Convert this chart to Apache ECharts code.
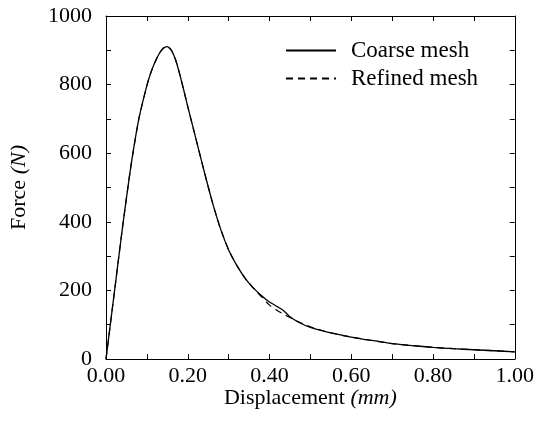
<!DOCTYPE html>
<html>
<head>
<meta charset="utf-8">
<script src="https://cdn.jsdelivr.net/npm/echarts@6/dist/echarts.min.js"></script>
<style>html,body{margin:0;padding:0;background:#fff;}#c{width:537px;height:425px;}</style>
</head>
<body>
<div id="c"></div>
<script>
const displacement = [0, 0.02, 0.04, 0.06, 0.08, 0.10, 0.11, 0.12, 0.13, 0.14, 0.15, 0.16, 0.17, 0.18, 0.19, 0.20, 0.22, 0.24, 0.26, 0.28, 0.30, 0.32, 0.34, 0.36, 0.38, 0.40, 0.42, 0.43, 0.44, 0.45, 0.47, 0.50, 0.55, 0.60, 0.65, 0.70, 0.75, 0.80, 0.85, 0.90, 0.95, 1.00];
const coarseForce = [0, 190, 380, 555, 698, 797, 836, 866, 890, 906, 911, 900, 873, 832, 785, 736, 642, 548, 458, 380, 318, 273, 236, 208, 185, 166, 152, 145, 135, 123, 108, 92, 76, 64, 54, 45, 39, 34, 30, 27, 24, 21];
const refinedForce = [0, 190, 380, 555, 698, 797, 836, 866, 890, 906, 911, 900, 873, 832, 785, 736, 642, 548, 458, 380, 318, 273, 236, 207, 182, 157, 141, 134, 127, 121, 109, 94, 76, 64, 54, 45, 39, 34, 30, 27, 24, 21];
const seriesNames = ['Coarse mesh', 'Refined mesh'];

const font = "'Liberation Serif','Times New Roman',serif";
const pairs = (ys) => displacement.map((x, i) => [x, ys[i]]);

const chart = echarts.init(document.getElementById('c'), null, {renderer: 'canvas'});
const axisLineStyle = {color: '#000', width: 1};
chart.setOption({
  animation: false,
  backgroundColor: '#fff',
  grid: {left: 105, right: 21, top: 16, bottom: 66, containLabel: false},
  legend: {
    orient: 'vertical', left: 280, top: 34, itemWidth: 50, itemHeight: 10, itemGap: 5,
    itemStyle: {color: 'rgba(0,0,0,0)', borderColor: 'rgba(0,0,0,0)', borderWidth: 0},
    textStyle: {fontFamily: font, fontSize: 23, color: '#000', padding: [0, 0, 0, 10]},
    data: seriesNames
  },
  xAxis: [{
    type: 'value', min: 0, max: 1, interval: 0.1,
    name: '{n|Displacement }{i|(mm)}', nameLocation: 'middle', nameGap: 28, nameMoveOverlap: false,
    nameTextStyle: {rich: {n: {fontFamily: font, fontSize: 22, color: '#000'}, i: {fontFamily: font, fontSize: 22, fontStyle: 'italic', color: '#000'}}},
    axisLine: {onZero: false, lineStyle: axisLineStyle},
    axisTick: {inside: true, length: 5, lineStyle: axisLineStyle},
    splitLine: {show: false},
    axisLabel: {fontFamily: font, fontSize: 22, color: '#000', margin: 6,
      formatter: v => (Math.round(v * 10) % 2 === 0 ? v.toFixed(2) : '')}
  }, {
    type: 'value', min: 0, max: 1, interval: 0.1, position: 'top',
    axisLine: {show: true, onZero: false, lineStyle: axisLineStyle},
    axisTick: {show: true, inside: true, length: 5, lineStyle: axisLineStyle},
    axisLabel: {show: false}, splitLine: {show: false}
  }],
  yAxis: [{
    type: 'value', min: 0, max: 1000, interval: 100,
    name: '{n|Force }{i|(N)}', nameLocation: 'middle', nameGap: 76, nameMoveOverlap: false,
    nameTextStyle: {rich: {n: {fontFamily: font, fontSize: 22, color: '#000'}, i: {fontFamily: font, fontSize: 22, fontStyle: 'italic', color: '#000'}}},
    axisLine: {show: true, onZero: false, lineStyle: axisLineStyle},
    axisTick: {show: true, inside: true, length: 5, lineStyle: axisLineStyle},
    splitLine: {show: false},
    axisLabel: {fontFamily: font, fontSize: 22, color: '#000', margin: 14,
      formatter: v => (Math.round(v / 100) % 2 === 0 ? String(v) : '')}
  }, {
    type: 'value', min: 0, max: 1000, interval: 100, position: 'right',
    axisLine: {show: true, onZero: false, lineStyle: axisLineStyle},
    axisTick: {show: true, inside: true, length: 5, lineStyle: axisLineStyle},
    axisLabel: {show: false}, splitLine: {show: false}
  }],
  series: [{
    name: seriesNames[0], type: 'line', data: pairs(coarseForce), smooth: 0.2,
    symbol: 'none', xAxisIndex: 0, yAxisIndex: 0,
    lineStyle: {color: '#000', width: 1.3, type: 'solid'}, itemStyle: {color: '#000'}
  }, {
    name: seriesNames[1], type: 'line', data: pairs(refinedForce), smooth: 0.2,
    symbol: 'none', xAxisIndex: 0, yAxisIndex: 0,
    lineStyle: {color: '#000', width: 1.2, type: [7, 5]}, itemStyle: {color: '#000'}
  }]
});
</script>
</body>
</html>
